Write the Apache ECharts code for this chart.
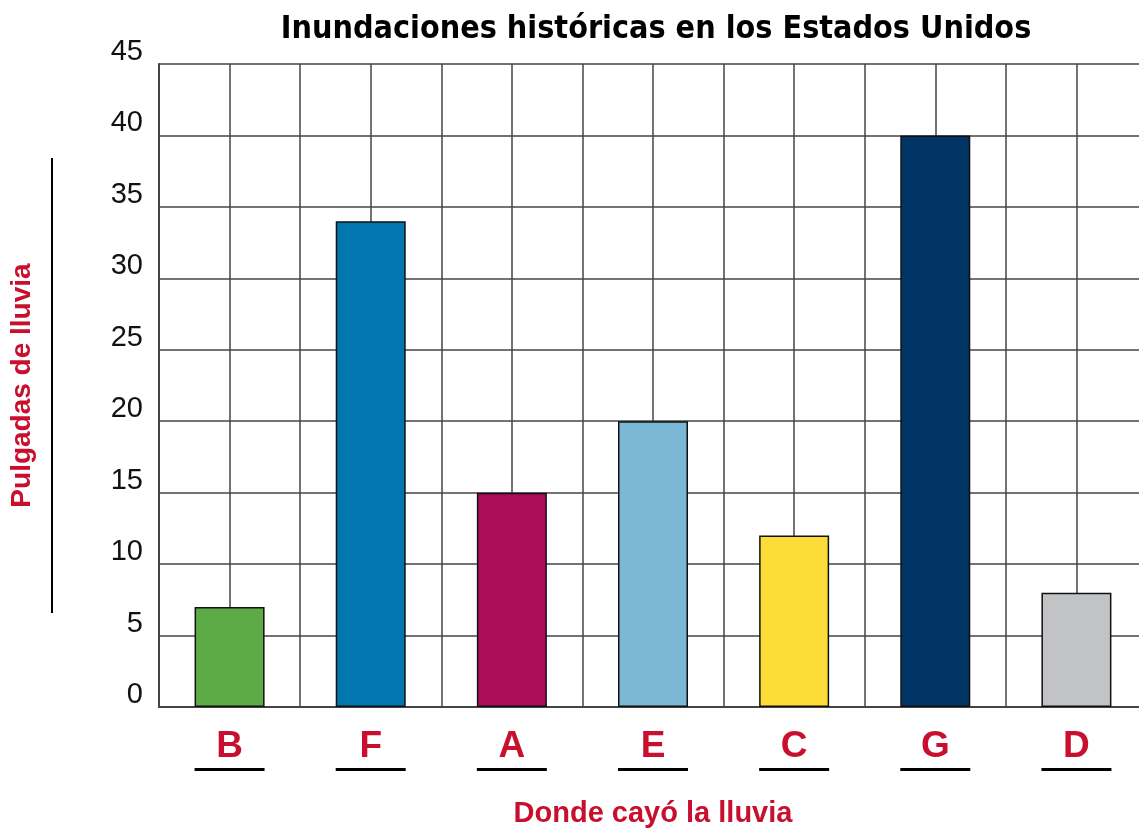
<!DOCTYPE html>
<html>
<head>
<meta charset="utf-8">
<script src="https://cdn.jsdelivr.net/npm/echarts@6/dist/echarts.min.js"></script>
<style>
  html, body { margin: 0; padding: 0; background: #fff; }
  #chart { width: 1139px; height: 831px; }
</style>
</head>
<body>
<div id="chart"></div>
<script>
// datos
var lugares = ['B', 'F', 'A', 'E', 'C', 'G', 'D'];
var pulgadas = [7, 34, 15, 20, 12, 40, 8];
var colores = ['#5dab46', '#0077ae', '#ab0d5a', '#7ab8d6', '#fddc3a', '#003566', '#c2c3c5'];
var yMax = 45;
var yPaso = 5;

var rojo = '#c8102e';
var gris = '#444';

var myChart = echarts.init(document.getElementById('chart'));

var option = {
  backgroundColor: '#fff',
  animation: false,
  title: {
    text: 'Inundaciones históricas en los Estados Unidos',
    left: 651,
    top: 9,
    textAlign: 'center',
    textStyle: {
      fontFamily: '"Liberation Sans Narrow", "DejaVu Sans Condensed", sans-serif',
      fontWeight: 'bold',
      fontSize: 32,
      color: '#000'
    }
  },
  grid: {
    left: 159,
    top: 64,
    right: -8,
    bottom: 124,
    outerBoundsMode: 'none'
  },
  xAxis: [
    {
      type: 'category',
      data: lugares,
      boundaryGap: true,
      axisLine: { show: true, lineStyle: { color: gris, width: 2 } },
      axisTick: { show: false },
      splitLine: { show: false },
      axisLabel: {
        margin: 19,
        formatter: function (v) { return '{a|' + v + '}\n{u|}'; },
        rich: {
          a: {
            fontFamily: '"Liberation Sans", Arial, sans-serif',
            fontWeight: 'bold',
            fontSize: 37,
            lineHeight: 42,
            color: rojo
          },
          u: { width: 70, height: 3, backgroundColor: '#000' }
        }
      },
      name: 'Donde cayó la lluvia',
      nameLocation: 'middle',
      nameGap: 92,
      nameTextStyle: {
        fontFamily: '"Liberation Sans", Arial, sans-serif',
        fontWeight: 'bold',
        fontSize: 29,
        color: rojo
      }
    },
    {
      // solo para las lineas verticales de la cuadricula
      type: 'value',
      min: 0,
      max: lugares.length * 2,
      interval: 1,
      position: 'bottom',
      axisLine: { show: false },
      axisTick: { show: false },
      axisLabel: { show: false },
      splitLine: { show: true, lineStyle: { color: gris, width: 1.5 } }
    }
  ],
  yAxis: {
    type: 'value',
    min: 0,
    max: yMax,
    interval: yPaso,
    axisLine: { show: true, lineStyle: { color: gris, width: 2 } },
    axisTick: { show: false },
    splitLine: { show: true, lineStyle: { color: gris, width: 1.5 } },
    axisLabel: {
      margin: 16,
      fontFamily: '"Liberation Sans", Arial, sans-serif',
      fontSize: 29,
      color: '#111',
      verticalAlign: 'bottom',
      lineHeight: 24
    },
    name: '{t|Pulgadas de lluvia}\n{u|}',
    nameLocation: 'middle',
    nameRotate: 90,
    nameGap: 106,
    nameTextStyle: {
      rich: {
        t: {
          fontFamily: '"Liberation Sans", Arial, sans-serif',
          fontWeight: 'bold',
          fontSize: 28,
          lineHeight: 58,
          color: rojo
        },
        u: { width: 455, height: 2, backgroundColor: '#000' }
      }
    }
  },
  series: [
    {
      type: 'bar',
      xAxisIndex: 0,
      barWidth: 70,
      data: pulgadas.map(function (v, i) {
        return { value: v, itemStyle: { color: colores[i] } };
      }),
      itemStyle: { borderColor: '#111', borderWidth: 1.5 }
    }
  ]
};

myChart.setOption(option);
</script>
</body>
</html>
